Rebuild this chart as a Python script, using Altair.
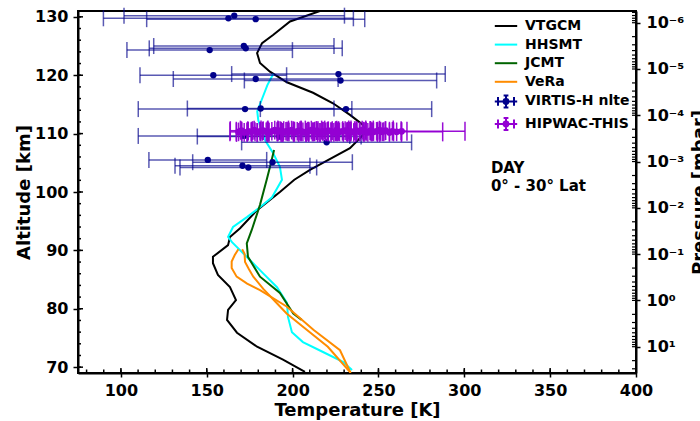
import json
import altair as alt
import pandas as pd

# ---------------- temperature profiles: T [K] vs altitude [km] ----------------
VTGCM_T = [215.9, 198.5, 188.6, 182.2, 179.3, 181.0, 186.8, 196.7, 211.9, 223.5, 233.4,
           241.0, 242.2, 233.4, 210.1, 201.0, 192.6, 179.3, 169.4, 163.5, 162.4, 153.6,
           153.6, 156.5, 163.5, 167.0, 162.4, 161.8, 167.6, 179.3, 194.4, 207.2]
VTGCM_ALT = [131.0, 129.2, 126.9, 125.5, 123.8, 122.1, 120.6, 118.8, 117.0, 115.2, 113.2,
             111.5, 110.1, 107.5, 103.8, 102.1, 100.0, 96.9, 93.8, 92.3, 90.9, 88.9,
             87.8, 85.8, 83.7, 81.5, 79.8, 78.1, 75.9, 73.5, 71.3, 69.2]

HHSMT_T = [188.7, 185.3, 182.0, 179.4, 180.0, 182.0, 183.9, 188.6, 192.6, 193.8, 188.0,
           181.0, 173.4, 165.3, 162.4, 164.7, 176.3, 182.7, 190.9, 196.7, 197.3, 199.6,
           206.0, 217.7, 229.3, 234.6]
HHSMT_ALT = [120.2, 118.3, 115.8, 113.8, 112.3, 110.6, 108.9, 106.7, 104.3, 102.1, 99.1,
             97.4, 95.7, 94.0, 92.3, 91.4, 88.0, 86.1, 83.7, 81.0, 78.6, 76.0,
             74.3, 72.6, 70.9, 69.5]

JCMT_T = [189.2, 186.8, 184.9, 181.0, 176.2, 173.3, 174.0, 181.0, 192.6, 200.4, 205.3]
JCMT_ALT = [107.2, 104.3, 102.1, 97.8, 93.5, 91.2, 88.9, 85.5, 82.7, 79.2, 78.1]

VERA1_T = [168.4, 166.3, 164.5, 164.5, 167.4, 173.5, 181.0, 196.5, 212.1, 227.6, 233.8]
VERA1_ALT = [90.2, 89.2, 88.1, 87.0, 85.5, 84.3, 83.2, 80.4, 76.4, 72.9, 69.0]

VERA2_T = [170.6, 172.0, 172.3, 174.5, 177.1, 182.9, 190.0, 196.5, 208.2, 220.5, 233.6]
VERA2_ALT = [90.2, 89.4, 88.0, 86.8, 85.5, 83.4, 81.2, 79.2, 76.4, 73.5, 69.1]

# ---------------- retrievals with temperature uncertainties ----------------
VIRTIS_T = [162.6, 166.0, 178.5,
            151.7, 171.6, 172.7,
            153.8, 178.5, 226.7, 227.9,
            172.3, 181.4, 231.1,
            171.7, 192.2, 219.8,
            150.6, 170.8, 174.2, 188.3]
VIRTIS_ERR = [72.8, 64.2, 63.5,
              48.2, 52.5, 56.2,
              42.7, 48.0, 62.2, 56.0,
              62.2, 42.7, 49.9,
              61.6, 47.7, 49.5,
              34.3, 39.3, 39.8, 46.5]
VIRTIS_ALT = [129.75, 130.2, 129.6,
              124.3, 125.0, 124.6,
              120.0, 119.35, 120.2, 119.1,
              114.2, 114.3, 114.2,
              109.6, 109.5, 108.5,
              105.5, 104.5, 104.2, 105.1]

HIPWAC_T = [168.5, 170.2, 171.8, 174.2, 175.9, 177.6, 179.5, 181.0, 182.9, 184.6,
            186.3, 187.9, 189.6, 191.2, 192.8, 194.5, 196.1, 197.9, 199.4, 201.0,
            202.7, 204.3, 206.0, 207.6, 209.3, 210.9, 212.6, 214.1, 215.9, 217.4,
            219.1, 220.8, 222.4, 224.0, 225.7, 227.3, 229.0, 230.6, 232.3, 233.9,
            235.6, 237.2, 238.9, 240.5, 242.2, 243.8, 245.5, 247.1, 248.9, 250.6,
            252.3, 254.2, 256.4, 258.1, 260.6, 263.5]
HIPWAC_ERR = [5.0, 6.5, 4.5, 7.0, 5.5, 8.0, 6.0, 5.0, 9.0, 6.5,
              7.0, 5.5, 8.0, 6.0, 7.5, 9.0, 5.0, 6.5, 8.0, 7.0,
              6.0, 9.5, 5.5, 7.0, 8.5, 6.0, 7.5, 9.0, 6.5, 8.0,
              7.0, 6.0, 9.5, 8.0, 7.0, 6.5, 8.5, 5.5, 7.0, 9.0,
              6.0, 8.0, 7.5, 6.5, 9.0, 7.0, 8.5, 6.0, 7.5, 8.0,
              6.5, 9.0, 7.0, 8.5, 26.8, 36.9]
HIPWAC_ALT = [110.3, 110.5, 110.2, 110.4, 110.3, 110.6, 110.2, 110.4, 110.5, 110.3,
              110.2, 110.4, 110.6, 110.3, 110.5, 110.2, 110.4, 110.3, 110.6, 110.2,
              110.4, 110.5, 110.3, 110.2, 110.4, 110.6, 110.3, 110.5, 110.2, 110.4,
              110.3, 110.5, 110.4, 110.2, 110.6, 110.3, 110.4, 110.5, 110.3, 110.4,
              110.2, 110.5, 110.3, 110.6, 110.4, 110.2, 110.5, 110.3, 110.4, 110.6,
              110.3, 110.5, 110.2, 110.4, 110.3, 110.4]
HIPWAC_YERR = [1.6] * len(HIPWAC_T)

SERIES = ["VTGCM", "HHSMT", "JCMT", "VeRa", "VIRTIS-H nlte", "HIPWAC-THIS"]
COLORS = ["#000000", "#00FFFF", "#006400", "#FF8C00", "#00008B", "#9400D3"]

# annotation
NOTE_TEXT = ["DAY", "0°  - 30°  Lat"]
NOTE_T = [315.5, 315.5]
NOTE_ALT = [104.1, 101.0]

# axes
T_TICKS = [100, 150, 200, 250, 300, 350, 400]
T_MINOR = list(range(80, 400, 10))
ALT_TICKS = list(range(70, 131, 10))
ALT_MINOR = list(range(70, 131, 2))
P_EXP = [-6, -5, -4, -3, -2, -1, 0, 1]
P_DOMAIN = [10 ** -6.253, 10 ** 1.568]

W, H = 558, 362
FONT = "DejaVu Sans"

SUP = str.maketrans("-0123456789", "⁻⁰¹²³⁴⁵⁶⁷⁸⁹")
P_LABELS = ["10" + str(e).translate(SUP) for e in P_EXP]
P_MINOR = [k * 10.0 ** e for e in range(-7, 2) for k in range(1, 10)
           if P_DOMAIN[0] <= k * 10.0 ** e <= P_DOMAIN[1]]

x_scale = alt.Scale(domain=[75, 400], nice=False, zero=False)
y_scale = alt.Scale(domain=[69, 131], nice=False, zero=False)
p_scale = alt.Scale(type="log", domain=P_DOMAIN, reverse=True, nice=False)

x_axis = alt.Axis(values=T_TICKS, format="d", tickSize=4, tickWidth=1.5, domainWidth=2,
                  labelPadding=5, labelFont=FONT, labelFontSize=16, labelFontWeight="bold",
                  labelFlush=False, grid=False, titleFont=FONT, titleFontSize=18,
                  titleFontWeight="bold", titleY=42, titleBaseline="alphabetic")
y_axis = alt.Axis(orient="left", values=ALT_TICKS, format="d", tickSize=5, tickWidth=1.5,
                  domainWidth=2, labelPadding=5, labelFont=FONT, labelFontSize=16,
                  labelFontWeight="bold", labelFlush=False, grid=False, titleFont=FONT,
                  titleFontSize=18, titleFontWeight="bold", titleAngle=270, titleX=-49,
                  titleBaseline="alphabetic")
p_axis = alt.Axis(orient="right", values=[10.0 ** e for e in P_EXP],
                  labelExpr=json.dumps(P_LABELS) + "[round(log(datum.value)/LN10)+"
                  + str(-P_EXP[0]) + "]",
                  tickSize=4, tickWidth=1.5, domainWidth=2, labelPadding=6,
                  labelFont=FONT, labelFontSize=16, labelFontWeight="bold",
                  labelFlush=False, labelOverlap=False, grid=False, titleFont=FONT,
                  titleFontSize=18, titleFontWeight="bold", titleAngle=270, titleX=68,
                  titleBaseline="alphabetic")


def X(field):
    return alt.X(field, type="quantitative", scale=x_scale, axis=x_axis,
                 title="Temperature [K]")


def Y(field):
    return alt.Y(field, type="quantitative", scale=y_scale, axis=y_axis,
                 title="Altitude [km]")


# ---------------- profile lines ----------------
rows = []
for name, prof, ts, alts, col in [
    ("VTGCM", "vtgcm", VTGCM_T, VTGCM_ALT, COLORS[0]),
    ("HHSMT", "hhsmt", HHSMT_T, HHSMT_ALT, COLORS[1]),
    ("JCMT", "jcmt", JCMT_T, JCMT_ALT, COLORS[2]),
    ("VeRa", "vera1", VERA1_T, VERA1_ALT, COLORS[3]),
    ("VeRa", "vera2", VERA2_T, VERA2_ALT, COLORS[3]),
]:
    for i, (t, a) in enumerate(zip(ts, alts)):
        rows.append({"series": name, "profile": prof, "idx": i, "T": t, "alt": a, "col": col})
prof_df = pd.DataFrame(rows)

lines = alt.Chart(prof_df).mark_line(strokeWidth=2, clip=True).encode(
    x=X("T"), y=Y("alt"),
    color=alt.Color("col:N", scale=None),
    detail="profile:N",
    order=alt.Order("idx:Q"),
)


def error_layers(t, err, alts, color, bar_opacity, cap_len, dot_size, yerr=None):
    df = pd.DataFrame({"T": t, "err": err, "alt": alts,
                       "yerr": yerr if yerr is not None else [0.0] * len(t)})
    base = alt.Chart(df).transform_calculate(
        lo="datum.T - datum.err", hi="datum.T + datum.err",
        alo="datum.alt - datum.yerr", ahi="datum.alt + datum.yerr")
    bars = base.mark_rule(color=color, opacity=bar_opacity, strokeWidth=1.5).encode(
        x=X("lo"), x2="hi:Q", y=Y("alt"))
    caps = base.transform_fold(["lo", "hi"], as_=["end", "edge"]).mark_tick(
        orient="vertical", color=color, opacity=bar_opacity, size=cap_len, thickness=1.5
    ).encode(x=X("edge"), y=Y("alt"))
    layers = [bars, caps]
    if yerr is not None:
        vbars = base.mark_rule(color=color, opacity=bar_opacity, strokeWidth=1.5).encode(
            x=X("T"), y=Y("alo"), y2="ahi:Q")
        layers.append(vbars)
    dots = base.mark_circle(color=color, size=dot_size, opacity=1).encode(
        x=X("T"), y=Y("alt"))
    layers.append(dots)
    return layers


virtis = error_layers(VIRTIS_T, VIRTIS_ERR, VIRTIS_ALT, COLORS[4], 0.65, 16, 40)
hipwac = error_layers(HIPWAC_T, HIPWAC_ERR, HIPWAC_ALT, COLORS[5], 0.95, 19, 45,
                      yerr=HIPWAC_YERR)

# ---------------- inward tick marks (major and minor) ----------------
bottom_major = alt.Chart(pd.DataFrame({"t": T_TICKS})).mark_rule(
    color="black", strokeWidth=1.5).encode(x=X("t"), y=alt.value(H), y2=alt.value(H - 5))
bottom_minor = alt.Chart(pd.DataFrame({"t": T_MINOR})).mark_rule(
    color="black", strokeWidth=1.5).encode(x=X("t"), y=alt.value(H), y2=alt.value(H - 3.5))
left_major = alt.Chart(pd.DataFrame({"a": ALT_TICKS})).mark_rule(
    color="black", strokeWidth=1.5).encode(y=Y("a"), x=alt.value(0), x2=alt.value(5))
left_minor = alt.Chart(pd.DataFrame({"a": ALT_MINOR})).mark_rule(
    color="black", strokeWidth=1.5).encode(y=Y("a"), x=alt.value(0), x2=alt.value(3))

# ---------------- annotation ----------------
note = alt.Chart(pd.DataFrame({"T": NOTE_T, "alt": NOTE_ALT, "text": NOTE_TEXT})).mark_text(
    align="left", baseline="middle", font=FONT, fontSize=15, fontWeight="bold", color="black"
).encode(x=X("T"), y=Y("alt"), text="text:N")

# ---------------- legend ----------------
LINE_SYM = "M-1.4,0H1.4"
ERR_SYM = ("M-1.4,0H1.4M-1.0,-0.55V0.55M1.0,-0.55V0.55M0,-0.75V0.75"
           "M-0.3,-0.75H0.3M-0.3,0.75H0.3"
           "M-0.3,0A0.3,0.3 0 1,0 0.3,0A0.3,0.3 0 1,0 -0.3,0"
           "M-0.15,0A0.15,0.15 0 1,0 0.15,0A0.15,0.15 0 1,0 -0.15,0")
SHAPES = [LINE_SYM, LINE_SYM, LINE_SYM, LINE_SYM, ERR_SYM, ERR_SYM]

leg = alt.Legend(title=None, orient="none", legendX=419, legendY=6, padding=0,
                 labelFont=FONT, labelFontSize=14, labelFontWeight="bold",
                 labelColor="black", labelOffset=10, labelLimit=300,
                 symbolSize=256, symbolStrokeWidth=2, symbolOpacity=1, rowPadding=2.6)

legend_layer = alt.Chart(pd.DataFrame({"series": SERIES})).transform_filter(
    "false").mark_point(filled=False, opacity=1, size=256, strokeWidth=2).encode(
    color=alt.Color("series:N", scale=alt.Scale(domain=SERIES, range=COLORS), legend=leg),
    shape=alt.Shape("series:N", scale=alt.Scale(domain=SERIES, range=SHAPES), legend=leg),
)

main = alt.layer(lines, *virtis, *hipwac, bottom_major, bottom_minor, left_major,
                 left_minor, note, legend_layer)

# ---------------- pressure axis on the right ----------------
right_ticks = alt.Chart(pd.DataFrame({"p": P_MINOR})).mark_rule(
    color="black", strokeWidth=1.2).encode(
    y=alt.Y("p:Q", scale=p_scale, axis=p_axis, title="Pressure [mbar]"),
    x=alt.value(W), x2=alt.value(W - 4))

chart = alt.layer(main, right_ticks).resolve_scale(y="independent").properties(
    width=W, height=H,
    autosize=alt.AutoSizeParams(type="none"),
    padding={"left": 78, "top": 11, "right": 64, "bottom": 48},
).configure_view(stroke="black", strokeWidth=2).configure_axis(
    domainColor="black", tickColor="black", labelColor="black", titleColor="black")

chart.save("out.html", embed_options={"renderer": "svg", "actions": False})
